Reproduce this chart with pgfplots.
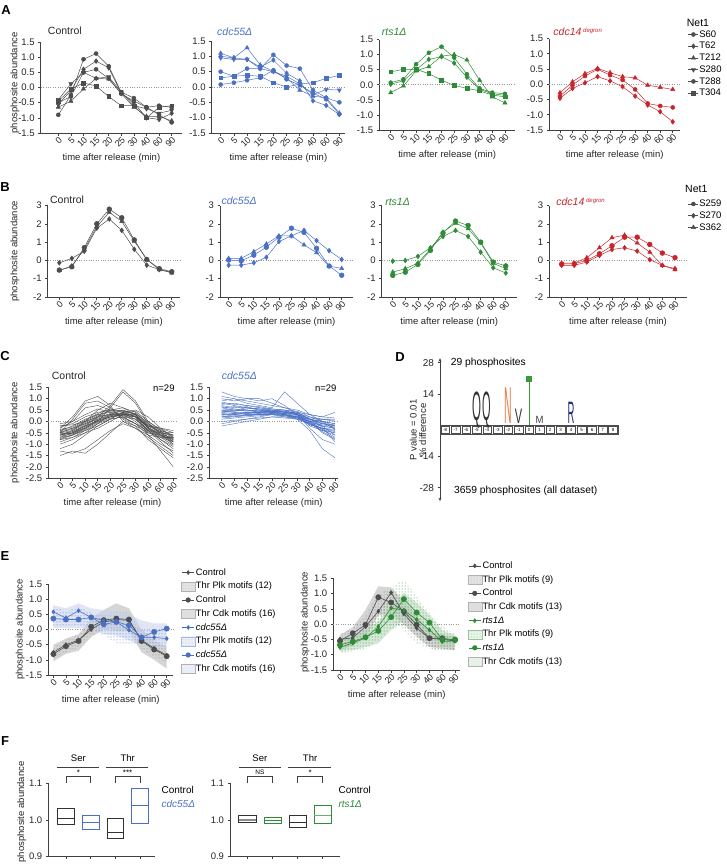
\documentclass[border=0pt]{standalone}
\usepackage{fontspec}
\setmainfont{Liberation Sans}
\usepackage{pgfplots}
\usepackage{pgfplotstable}
\pgfplotsset{compat=1.18}
\usetikzlibrary{patterns,arrows.meta}

\definecolor{cgray}{HTML}{4D4D4D}
\definecolor{cblue}{HTML}{4A70C4}
\definecolor{cgreen}{HTML}{2E8B36}
\definecolor{cred}{HTML}{C8242B}
\definecolor{corange}{HTML}{E47B45}
\definecolor{cnavy}{HTML}{1F2C7C}
\definecolor{cpt}{HTML}{3C9A3C}

\newcommand{\fs}[1]{\fontsize{#1}{#1}\selectfont}
\newcommand{\ttl}[3]{\node[anchor=west, font=\fs{10.5}, inner sep=0pt, text=black!85] at (axis description cs:#1,#2) {#3};}
\newcommand{\tr}[2]{\pgfplotstabletranspose[colnames from=n, input colnames to=t]{#1}{#2}}

\pgfplotsset{
  base/.style={
    scale only axis, clip=false, anchor=south west,
    axis lines*=left,
    axis line style={black!75, line width=0.6pt},
    tick style={black!75, line width=0.6pt},
    tick align=outside, major tick length=2.5pt,
    ticklabel style={font=\fs{9.5}, text=black!85},
    label style={font=\fs{9.5}, text=black!85},
    /pgf/number format/assume math mode=true,
  },
  yl/.style 2 args={ylabel style={at={(axis description cs:#1,#2)}, anchor=center}},
  zline/.style={extra y ticks={0}, extra y tick labels={},
    extra y tick style={grid=major, major grid style={dotted, black!40, line width=0.7pt}, major tick length=0pt}},
  time/.style={base, zline,
    xtick={0,...,9}, xticklabels={0,5,10,15,20,25,30,40,60,90},
    xticklabel style={rotate=45, anchor=north east, inner sep=0.3pt, font=\fs{9}},
    xlabel={time after release (min)}, xlabel style={yshift=-2pt},
  },
  dec1/.style={yticklabel style={/pgf/number format/.cd, fixed, fixed zerofill, precision=1}},
  gl/.style={cgray, line width=0.5pt, mark size=2pt, mark options={solid}},
  bl/.style={cblue, line width=0.5pt, mark size=2pt, mark options={solid}},
  grl/.style={cgreen, line width=0.5pt, mark size=2pt, mark options={solid}},
  rl/.style={cred, line width=0.5pt, mark size=2pt, mark options={solid}},
  mS/.style={mark=*},
  mD/.style={mark=diamond*, mark size=2.4pt},
  mT/.style={mark=triangle*, mark size=2.4pt},
  mV/.style={mark=triangle*, mark size=2.4pt, mark options={solid, rotate=180}},
  mQ/.style={mark=square*, mark size=1.9pt},
  netlegend/.style={legend style={draw=none, fill=none, font=\fs{9.5}, row sep=2.2pt, inner sep=0pt, nodes={inner sep=0.7pt, anchor=west}, anchor=north west},
    legend cell align=left,
    legend image code/.code={\draw[mark repeat=2,mark phase=2,##1] plot coordinates {(0pt,0pt)(5pt,0pt)(10pt,0pt)};}},
  elegend/.style={legend style={draw=none, fill=none, font=\fs{9.3}, row sep=4.3pt, inner sep=0pt, nodes={inner sep=0.6pt, anchor=west}, anchor=north west},
    legend cell align=left,
    legend image code/.code={\draw[mark repeat=2,mark phase=2,##1] plot coordinates {(1pt,0pt)(7pt,0pt)(13pt,0pt)};}},
  gband/.style={draw=none, fill=gray!60, fill opacity=0.55},
  gdots/.style={draw=none, pattern=dots, pattern color=black!55},
  fbox/.style={line width=0.6pt},
}

% ---------------- data (rows = series, columns = time index) ----------------
\pgfplotstableread{
n 0 1 2 3 4 5 6 7 8 9
S60 -0.9 -0.25 0.93 1.12 0.7 -0.15 -0.35 -0.65 -0.9 -1.15
T62 -0.55 -0.1 0.6 0.87 0.65 -0.2 -0.5 -1.0 -1.05 -0.85
T212 -0.65 -0.45 -0.05 0.3 0.28 -0.2 -0.65 -0.95 -0.95 -1.1
S280 -0.4 0.12 0.5 0.3 0.35 -0.15 -0.6 -0.7 -0.85 -0.75
T288 -0.5 -0.3 0.5 0.6 0.3 -0.2 -0.45 -0.65 -0.6 -0.65
T304 -0.45 -0.05 0.15 0.05 -0.3 -0.6 -0.6 -1.0 -0.65 -0.6
}\rAc
\pgfplotstableread{
n 0 1 2 3 4 5 6 7 8 9
S60 0.5 0.35 0.6 0.6 1.05 0.7 0.6 -0.1 -0.35 -0.5
T62 1.0 0.95 0.9 0.65 0.88 0.45 0.2 -0.45 -0.6 -0.9
T212 1.1 0.95 1.28 0.72 0.5 0.3 -0.1 -0.3 -0.35 -0.85
S280 0.95 0.9 0.9 0.6 0.5 0.35 0.1 -0.25 -0.08 -0.1
T288 0.08 0.14 0.22 0.3 0.55 0.25 0.06 -0.2 -0.4 -0.88
T304 0.3 0.35 0.38 0.35 0.14 0.0 0.1 0.14 0.28 0.38
}\rAd
\pgfplotstableread{
n 0 1 2 3 4 5 6 7 8 9
S60 0.07 0.18 0.68 1.06 1.26 0.9 0.35 -0.12 -0.26 -0.3
T62 0.02 0.13 0.5 0.84 0.93 0.72 0.25 -0.15 -0.3 -0.35
T212 -0.26 -0.04 0.46 0.6 0.95 1.0 0.82 0.15 -0.4 -0.6
T304 0.43 0.51 0.51 0.37 0.15 -0.02 -0.12 -0.2 -0.34 -0.4
}\rAr
\pgfplotstableread{
n 0 1 2 3 4 5 6 7 8 9
S60 -0.39 -0.03 0.27 0.49 0.3 0.14 -0.17 -0.63 -0.71 -0.76
T62 -0.46 -0.14 0.05 0.25 0.11 -0.08 -0.39 -0.68 -0.9 -1.23
T212 -0.28 0.08 0.35 0.52 0.38 0.25 0.21 -0.03 -0.1 -0.17
}\rAe
\pgfplotstableread{
n 0 1 2 3 4 5 6 7 8 9
S259 -0.53 -0.35 0.7 2.0 2.8 2.33 1.12 0.05 -0.45 -0.62
S270 -0.13 0.11 0.5 1.76 2.26 1.64 0.61 -0.26 -0.5 -0.65
S362 -0.55 -0.3 0.6 1.85 2.63 2.13 1.05 0.05 -0.5 -0.68
}\rBc
\pgfplotstableread{
n 0 1 2 3 4 5 6 7 8 9
S259 0.02 -0.02 0.29 0.72 1.27 1.76 1.53 0.66 -0.31 -0.81
S270 -0.26 -0.26 -0.13 0.17 1.03 1.34 1.64 1.08 0.53 0.05
S362 0.11 0.11 0.48 0.9 1.34 1.34 0.85 0.42 -0.31 -0.44
}\rBd
\pgfplotstableread{
n 0 1 2 3 4 5 6 7 8 9
S259 -0.82 -0.64 -0.22 0.55 1.5 2.15 1.91 1.0 -0.09 -0.3
S270 -0.04 0.0 0.22 0.69 1.31 1.64 1.31 0.45 -0.4 -0.69
S362 -0.64 -0.45 -0.15 0.62 1.55 2.04 1.73 0.95 -0.15 -0.45
}\rBr
\pgfplotstableread{
n 0 1 2 3 4 5 6 7 8 9
S259 -0.2 -0.18 0.0 0.36 0.8 1.27 1.27 0.87 0.4 0.15
S270 -0.27 -0.27 -0.09 0.27 0.6 0.69 0.51 0.04 -0.27 -0.45
S362 -0.15 -0.15 0.15 0.69 1.24 1.38 0.95 0.45 -0.27 -0.5
}\rBe
\pgfplotstableread{
n 0 1 2 3 4 5 6 7 8 9
c1 -0.5 -0.3 0 0.2 0.3 0.35 0.1 -0.4 -0.6 -0.8
c2 -0.6 -0.4 -0.1 0.1 0.25 0.4 0.2 -0.3 -0.6 -0.9
c3 -0.4 -0.2 0.1 0.3 0.4 0.3 0.0 -0.5 -0.7 -0.7
c4 -0.7 -0.5 -0.2 0.0 0.2 0.3 0.3 -0.2 -0.5 -0.8
c5 -0.3 0.2 0.9 1.1 0.7 0.0 -0.3 -0.6 -0.7 -0.9
c6 -0.5 0.1 0.8 0.9 0.6 0.1 -0.2 -0.5 -0.6 -0.7
c7 -0.8 -0.6 -0.3 0.0 0.6 1.3 0.8 -0.1 -0.5 -1.0
c8 -0.6 -0.5 -0.2 0.2 0.7 1.4 0.9 0.0 -0.4 -0.9
c9 -1.2 -1.0 -0.6 -0.2 0.1 0.2 -0.1 -0.6 -1.0 -1.3
c10 -1.5 -1.3 -1.4 -1.0 -0.5 0.0 -0.2 -0.8 -1.2 -1.6
c11 -0.9 -0.7 -0.5 -0.1 0.3 0.5 0.3 -0.3 -0.8 -1.1
c12 -0.4 -0.3 -0.1 0.2 0.5 0.6 0.4 -0.1 -0.4 -0.6
c13 -0.2 -0.1 0.2 0.4 0.5 0.4 0.2 -0.2 -0.3 -0.5
c14 -0.5 -0.4 0.0 0.3 0.45 0.5 0.3 -0.3 -0.5 -0.6
c15 -0.7 -0.6 -0.4 -0.1 0.1 0.2 0.1 -0.4 -0.8 -1.2
c16 -0.6 -0.5 -0.3 0.1 0.3 0.25 0.2 -0.4 -0.9 -1.4
c17 -0.3 0.0 0.6 0.7 0.5 0.2 -0.1 -0.4 -0.5 -0.6
c18 -1.0 -0.8 -0.5 -0.3 0.0 0.3 0.2 -0.6 -1.3 -2.0
c19 -0.55 -0.45 -0.15 0.15 0.35 0.45 0.35 -0.15 -0.45 -0.7
c20 -0.45 -0.35 -0.05 0.25 0.3 0.25 0.1 -0.35 -0.55 -0.75
c21 -0.65 -0.55 -0.25 0.05 0.2 0.35 0.45 0.0 -0.35 -0.65
c22 -0.2 -0.15 0.0 0.5 0.8 0.6 0.3 -0.2 -0.3 -0.4
c23 -0.8 -0.7 -0.4 -0.2 0.1 0.4 0.5 0.2 -0.3 -0.7
c24 -1.3 -1.4 -1.2 -0.8 -0.4 -0.1 -0.3 -0.7 -1.1 -1.5
c25 -0.5 -0.55 -0.3 0.0 0.2 0.3 0.2 -0.2 -0.45 -0.5
c26 -0.35 -0.25 0.05 0.35 0.55 0.45 0.2 -0.25 -0.6 -0.85
c27 -0.75 -0.6 -0.35 -0.05 0.15 0.3 0.35 -0.05 -0.6 -1.0
c28 -0.1 0.0 0.3 0.55 0.4 0.15 -0.1 -0.45 -0.65 -0.75
c29 -0.6 -0.45 -0.2 0.05 0.25 0.35 0.25 -0.25 -0.7 -1.05
}\rCc
\pgfplotstableread{
n 0 1 2 3 4 5 6 7 8 9
c1 0.4 0.35 0.4 0.4 0.45 0.3 0.2 -0.1 -0.2 -0.3
c2 0.6 0.5 0.5 0.45 0.4 0.35 0.2 0.0 -0.1 -0.2
c3 1.0 0.9 1.0 1.0 0.8 0.6 0.4 0.1 0.0 -0.1
c4 1.3 1.1 1.0 0.9 1.0 0.7 0.3 -0.2 -0.4 -0.6
c5 0.2 0.25 0.3 0.3 0.4 0.3 0.2 0.0 0.1 0.1
c6 0.0 0.05 0.1 0.2 0.3 0.25 0.2 0.1 0.0 -0.1
c7 -0.2 -0.1 0.0 0.1 0.2 0.2 0.15 0.0 -0.2 -0.3
c8 0.5 0.45 0.55 0.6 0.55 0.5 0.3 -0.3 -0.8 -1.0
c9 0.8 0.7 0.6 0.55 0.5 0.45 0.35 0.0 -0.5 -0.8
c10 0.3 0.3 0.35 0.4 0.35 0.25 0.15 -0.1 -0.3 -0.4
c11 0.45 0.4 0.3 0.35 0.45 0.4 0.3 0.1 -0.1 -0.2
c12 0.9 1.0 0.8 0.7 0.6 1.3 0.8 0.3 0.0 -0.2
c13 0.7 0.6 0.65 0.5 0.45 0.4 0.35 0.2 0.1 0.0
c14 0.1 0.15 0.2 0.25 0.3 0.35 0.4 0.3 0.2 0.15
c15 0.35 0.3 0.25 0.3 0.35 0.3 0.1 -0.4 -1.2 -1.6
c16 0.55 0.5 0.45 0.5 0.5 0.45 0.3 -0.1 -0.4 -0.5
c17 0.25 0.2 0.25 0.3 0.3 0.25 0.2 0.1 -0.05 -0.3
c18 1.1 1.0 0.9 0.8 0.7 0.6 0.5 0.3 0.2 0.4
c19 0.15 0.2 0.3 0.35 0.4 0.45 0.35 0.1 -0.2 -0.6
c20 0.65 0.55 0.5 0.4 0.35 0.3 0.2 -0.15 -0.3 -0.45
c21 0.4 0.5 0.6 0.5 0.4 0.35 0.25 0.0 -0.35 -0.7
c22 0.5 0.4 0.35 0.3 0.3 0.2 0.1 -0.05 -0.15 -0.25
c23 0.75 0.8 0.7 0.65 0.55 0.5 0.4 0.1 -0.1 -0.15
c24 0.3 0.35 0.4 0.45 0.5 0.5 0.45 0.2 0.0 -0.35
c25 -0.1 0.0 0.1 0.15 0.2 0.15 0.1 -0.1 -0.35 -0.5
c26 0.6 0.65 0.6 0.55 0.45 0.35 0.3 0.05 -0.25 -0.9
c27 0.2 0.3 0.4 0.4 0.45 0.4 0.3 0.15 0.1 0.05
c28 0.85 0.75 0.7 0.6 0.5 0.4 0.3 -0.05 -0.45 -0.75
c29 0.45 0.45 0.5 0.45 0.4 0.3 0.15 -0.15 -0.3 -0.35
}\rCd
% E means: gC/gP = Control Cdk/Plk, mC/mP = mutant Cdk/Plk
\pgfplotstableread{
n 0 1 2 3 4 5 6 7 8 9
gC -0.81 -0.55 -0.38 0.09 0.31 0.36 0.33 -0.38 -0.66 -0.88
gP -0.75 -0.5 -0.35 0.0 0.25 0.33 0.3 -0.35 -0.62 -0.85
mC 0.36 0.33 0.33 0.4 0.17 0.25 0.14 -0.26 -0.08 0.03
mP 0.58 0.38 0.62 0.4 0.3 0.25 -0.02 -0.26 -0.26 -0.3
}\rEd
\pgfplotstableread{
n 0 1 2 3 4 5 6 7 8 9
gC -0.55 -0.3 -0.02 0.88 0.71 0.42 -0.02 -0.46 -0.46 -0.52
gP -0.49 -0.45 -0.08 0.42 1.03 0.34 -0.13 -0.46 -0.5 -0.55
mC -0.68 -0.57 -0.43 -0.22 0.23 0.82 0.38 0.05 -0.5 -0.5
mP -0.76 -0.62 -0.45 -0.08 0.53 0.45 0.15 -0.19 -0.57 -0.55
}\rEr
\tr{\tAc}{\rAc}\tr{\tAd}{\rAd}\tr{\tAr}{\rAr}\tr{\tAe}{\rAe}
\tr{\tBc}{\rBc}\tr{\tBd}{\rBd}\tr{\tBr}{\rBr}\tr{\tBe}{\rBe}
\tr{\tCc}{\rCc}\tr{\tCd}{\rCd}\tr{\tEd}{\rEd}\tr{\tEr}{\rEr}

\begin{document}
\begin{tikzpicture}
\foreach \L/\x/\y in {A/6/10,B/5/187,C/5/356,D/400/357,E/5/556,F/5/741}
  \node[font=\bfseries\fs{13}] at (\x pt,-\y pt) {\L};

% ================= A =================
\begin{axis}[time, dec1, at={(40.7pt,-133pt)}, width=141.3pt, height=91pt,
  xmin=-1.4, xmax=9.82, ymin=-1.5, ymax=1.5, ytick={-1.5,-1,-0.5,0,0.5,1,1.5},
  ylabel={phosphosite abundance}, yl={-0.182}{0.55}]
\addplot[gl,mS] table[x=t,y=S60]{\tAc};
\addplot[gl,mD] table[x=t,y=T62]{\tAc};
\addplot[gl,mT] table[x=t,y=T212]{\tAc};
\addplot[gl,mV] table[x=t,y=S280]{\tAc};
\addplot[gl,mS] table[x=t,y=T288]{\tAc};
\addplot[gl,mQ] table[x=t,y=T304]{\tAc};
\ttl{0.05}{1.12}{Control}
\end{axis}

\begin{axis}[time, dec1, at={(211.7pt,-133pt)}, width=133.3pt, height=92pt,
  xmin=-0.68, xmax=9.43, ymin=-1.5, ymax=1.5, ytick={-1.5,-1,-0.5,0,0.5,1,1.5}]
\addplot[bl,mS] table[x=t,y=S60]{\tAd};
\addplot[bl,mD] table[x=t,y=T62]{\tAd};
\addplot[bl,mT] table[x=t,y=T212]{\tAd};
\addplot[bl,mV] table[x=t,y=S280]{\tAd};
\addplot[bl,mS] table[x=t,y=T288]{\tAd};
\addplot[bl,mQ] table[x=t,y=T304]{\tAd};
\ttl{0.04}{1.10}{\color{cblue}\itshape cdc55Δ}
\end{axis}

\begin{axis}[time, dec1, at={(379.3pt,-130pt)}, width=135.7pt, height=90.5pt,
  xmin=-0.9, xmax=9.79, ymin=-1.5, ymax=1.5, ytick={-1.5,-1,-0.5,0,0.5,1,1.5}]
\addplot[grl,mS] table[x=t,y=S60]{\tAr};
\addplot[grl,mD] table[x=t,y=T62]{\tAr};
\addplot[grl,mT] table[x=t,y=T212]{\tAr};
\addplot[grl,mQ] table[x=t,y=T304]{\tAr};
\ttl{0.018}{1.085}{\color{cgreen}\itshape rts1Δ}
\end{axis}

\begin{axis}[time, dec1, netlegend, at={(549.3pt,-130pt)}, width=130.7pt, height=91.5pt,
  xmin=-0.85, xmax=9.58, ymin=-1.5, ymax=1.5, ytick={-1.5,-1,-0.5,0,0.5,1,1.5},
  legend style={at={(1.061,1.098)}}]
\addlegendimage{gl,mS}\addlegendentry{S60}
\addlegendimage{gl,mD}\addlegendentry{T62}
\addlegendimage{gl,mT}\addlegendentry{T212}
\addlegendimage{gl,mV}\addlegendentry{S280}
\addlegendimage{gl,mS}\addlegendentry{T288}
\addlegendimage{gl,mQ}\addlegendentry{T304}
\addplot[rl,mS] table[x=t,y=S60]{\tAe};
\addplot[rl,mD] table[x=t,y=T62]{\tAe};
\addplot[rl,mT] table[x=t,y=T212]{\tAe};
\ttl{0.03}{1.075}{\color{cred}\itshape cdc14\,\raisebox{0.6ex}{\fs{6}degron}}
\node[anchor=west, font=\fs{10.5}, inner sep=0pt] at (axis description cs:1.051,1.166) {Net1};
\end{axis}

% ================= B =================
\begin{axis}[time, at={(47.7pt,-297pt)}, width=132.3pt, height=91.5pt,
  xmin=-0.93, xmax=9.66, ymin=-2, ymax=3, ytick={-2,-1,0,1,2,3},
  ylabel={phosphosite abundance}, yl={-0.247}{0.5}]
\addplot[gl,mS,mark size=2.4pt] table[x=t,y=S259]{\tBc};
\addplot[gl,mD] table[x=t,y=S270]{\tBc};
\addplot[gl,mT] table[x=t,y=S362]{\tBc};
\ttl{0.017}{1.06}{Control}
\end{axis}

\begin{axis}[time, at={(220pt,-297pt)}, width=133pt, height=91.5pt,
  xmin=-0.69, xmax=9.9, ymin=-2, ymax=3, ytick={-2,-1,0,1,2,3}]
\addplot[bl,mS,mark size=2.4pt] table[x=t,y=S259]{\tBd};
\addplot[bl,mD] table[x=t,y=S270]{\tBd};
\addplot[bl,mT] table[x=t,y=S362]{\tBd};
\ttl{0.01}{1.05}{\color{cblue}\itshape cdc55Δ}
\end{axis}

\begin{axis}[time, at={(381.7pt,-297pt)}, width=135pt, height=91.5pt,
  xmin=-0.88, xmax=9.87, ymin=-2, ymax=3, ytick={-2,-1,0,1,2,3}]
\addplot[grl,mS,mark size=2.4pt] table[x=t,y=S259]{\tBr};
\addplot[grl,mD] table[x=t,y=S270]{\tBr};
\addplot[grl,mT] table[x=t,y=S362]{\tBr};
\ttl{0.025}{1.04}{\color{cgreen}\itshape rts1Δ}
\end{axis}

\begin{axis}[time, netlegend, at={(549.3pt,-297pt)}, width=137.4pt, height=91.5pt,
  xmin=-0.98, xmax=9.93, ymin=-2, ymax=3, ytick={-2,-1,0,1,2,3},
  legend style={at={(1.009,1.071)}}]
\addlegendimage{gl,mS}\addlegendentry{S259}
\addlegendimage{gl,mD}\addlegendentry{S270}
\addlegendimage{gl,mT}\addlegendentry{S362}
\addplot[rl,mS,mark size=2.4pt] table[x=t,y=S259]{\tBe};
\addplot[rl,mD] table[x=t,y=S270]{\tBe};
\addplot[rl,mT] table[x=t,y=S362]{\tBe};
\ttl{0.05}{1.04}{\color{cred}\itshape cdc14\,\raisebox{0.6ex}{\fs{6}degron}}
\node[anchor=west, font=\fs{10.5}, inner sep=0pt] at (axis description cs:0.988,1.177) {Net1};
\end{axis}

% ================= C =================
\begin{axis}[time, dec1, at={(48.3pt,-478.3pt)}, width=128.4pt, height=91pt,
  xmin=-0.93, xmax=9.27, ymin=-2.5, ymax=1.5, ytick={-2.5,-2,-1.5,-1,-0.5,0,0.5,1,1.5},
  ylabel={phosphosite abundance}, yl={-0.259}{0.5}]
\pgfplotsinvokeforeach{1,...,29}{\addplot[cgray, line width=0.4pt] table[x=t,y=c#1]{\tCc};}
\ttl{0.026}{1.124}{Control}
\node[font=\fs{9.5}] at (axis description cs:0.9,0.995) {n=29};
\end{axis}

\begin{axis}[time, dec1, at={(209.3pt,-478.3pt)}, width=128.7pt, height=91pt,
  xmin=-0.98, xmax=9.24, ymin=-2.5, ymax=1.5, ytick={-2.5,-2,-1.5,-1,-0.5,0,0.5,1,1.5}]
\pgfplotsinvokeforeach{1,...,29}{\addplot[cblue, line width=0.4pt] table[x=t,y=c#1]{\tCd};}
\ttl{0.096}{1.124}{\color{cblue}\itshape cdc55Δ}
\node[font=\fs{9.5}] at (axis description cs:0.905,0.995) {n=29};
\end{axis}

% ================= D =================
\begin{axis}[base, at={(440pt,-501.1pt)}, width=178.3pt, height=142.9pt,
  xmin=-8.5, xmax=8.5, ymin=-34, ymax=30, axis x line=none, xtick=\empty,
  ytick={-28,-14,14,28}, yticklabel style={font=\fs{10}},
  y axis line style={{Stealth[length=3.5pt,width=3pt]}-{Stealth[length=3.5pt,width=3pt]}},
  ylabel={P value = 0.01\\\% difference},
  ylabel style={align=center, at={(axis description cs:-0.123,0.4975)}, anchor=center}]
\draw[black!70, line width=0.5pt] (axis cs:-8.5,-0.2) rectangle (axis cs:8.5,-4.1);
\pgfplotsinvokeforeach{-8,...,8}{
  \draw[black!70, line width=0.4pt, fill=white] ([xshift=-4.4pt]axis cs:#1,-0.6) rectangle ([xshift=4.4pt]axis cs:#1,-3.7);
  \node[font=\fs{4.5}, inner sep=0pt] at (axis cs:#1,-2.15) {#1};
}
\node[anchor=base, inner sep=0pt, font=\fs{10}, text=black!80, xscale=1.15, yscale=4.1] at (axis cs:-5,2.2) {Q};
\node[anchor=base, inner sep=0pt, font=\fs{10}, text=black!80, xscale=1.1, yscale=4.1] at (axis cs:-4,2.2) {Q};
\node[anchor=base, inner sep=0pt, font=\fs{10}, text=corange, xscale=1.05, yscale=5.2] at (axis cs:-2,0.9) {N};
\node[anchor=base, inner sep=0pt, font=\fs{10}, text=black!80, xscale=1.1, yscale=2.1] at (axis cs:-1,0.9) {V};
\node[anchor=base, inner sep=0pt, font=\fs{10}, text=black!75, xscale=0.95, yscale=1.05] at (axis cs:1,0.9) {M};
\node[anchor=base, inner sep=0pt, font=\fs{10}, text=cnavy, xscale=0.95, yscale=3.1] at (axis cs:4,0.9) {R};
\addplot[cpt, line width=1pt, mark=square*, mark size=2.6pt, mark indices={2}] coordinates {(0,0) (0,20.6)};
\node[anchor=west, font=\fs{10.3}] at (axis cs:-7.8,28) {29 phosphosites};
\node[anchor=west, font=\fs{10.3}] at (axis cs:-7.48,-29.3) {3659 phosphosites (all dataset)};
\end{axis}

% ================= E =================
\begin{axis}[time, dec1, elegend, at={(48.3pt,-675pt)}, width=125pt, height=91pt,
  xmin=-0.4, xmax=9.52, ymin=-1.5, ymax=1.5, ytick={-1.5,-1,-0.5,0,0.5,1,1.5},
  ylabel={phosphosite abundance}, yl={-0.226}{0.5}, legend style={at={(1.06,1.18)}}]
\addlegendimage{cgray, line width=0.5pt, mark=diamond*, mark size=2pt}\addlegendentry{Control}
\addlegendimage{legend image code/.code={\fill[gray!22] (0pt,-4.5pt) rectangle (14pt,4.5pt); \fill[pattern=dots, pattern color=gray!55] (0pt,-4.5pt) rectangle (14pt,4.5pt); \draw[gray!60, line width=0.4pt] (0pt,-4.5pt) rectangle (14pt,4.5pt);}}\addlegendentry{Thr Plk motifs (12)}
\addlegendimage{cgray, line width=0.5pt, mark=*, mark size=2.3pt}\addlegendentry{Control}
\addlegendimage{legend image code/.code={\draw[fill=gray!25, draw=gray!60, line width=0.4pt] (0pt,-4.5pt) rectangle (14pt,4.5pt);}}\addlegendentry{Thr Cdk motifs (16)}
\addlegendimage{cblue, line width=0.5pt, mark=diamond*, mark size=2pt}\addlegendentry{\itshape cdc55Δ}
\addlegendimage{legend image code/.code={\fill[cblue!10] (0pt,-4.5pt) rectangle (14pt,4.5pt); \fill[pattern=dots, pattern color=cblue!55] (0pt,-4.5pt) rectangle (14pt,4.5pt); \draw[cblue!50, line width=0.4pt] (0pt,-4.5pt) rectangle (14pt,4.5pt);}}\addlegendentry{Thr Plk motifs (12)}
\addlegendimage{cblue, line width=0.5pt, mark=*, mark size=2.3pt}\addlegendentry{\itshape cdc55Δ}
\addlegendimage{legend image code/.code={\draw[fill=cblue!12, draw=gray!60, line width=0.4pt] (0pt,-4.5pt) rectangle (14pt,4.5pt);}}\addlegendentry{Thr Cdk motifs (16)}
\addplot[gband] coordinates {(0,-0.5)(1,-0.3)(2,-0.15)(3,0.35)(4,0.65)(5,0.86)(6,0.7)(7,0.0)(8,-0.35)(9,-0.57)
  (9,-1.29)(8,-1.0)(7,-0.75)(6,-0.05)(5,-0.05)(4,0.0)(3,-0.25)(2,-0.7)(1,-0.8)(0,-1.05)} -- cycle;
\addplot[gdots] coordinates {(0,-0.6)(1,-0.35)(2,-0.2)(3,0.25)(4,0.5)(5,0.6)(6,0.55)(7,-0.1)(8,-0.4)(9,-0.65)
  (9,-1.1)(8,-0.9)(7,-0.65)(6,0.05)(5,0.1)(4,0.05)(3,-0.2)(2,-0.6)(1,-0.75)(0,-0.95)} -- cycle;
\addplot[draw=none, fill=cblue!30, fill opacity=0.6] coordinates {(0,0.8)(1,0.7)(2,0.86)(3,0.7)(4,0.64)(5,0.64)(6,0.5)(7,0.3)(8,0.2)(9,0.2)
  (9,-0.57)(8,-0.57)(7,-0.55)(6,-0.35)(5,-0.2)(4,-0.15)(3,0.0)(2,0.05)(1,0.05)(0,0.05)} -- cycle;
\addplot[draw=none, pattern=dots, pattern color=cblue] coordinates {(0,0.75)(1,0.6)(2,0.75)(3,0.55)(4,0.4)(5,0.3)(6,0.2)(7,0.0)(8,0.03)(9,0.05)
  (9,-0.57)(8,-0.57)(7,-0.5)(6,-0.46)(5,-0.45)(4,-0.2)(3,0.05)(2,0.15)(1,0.1)(0,0.1)} -- cycle;
\addplot[cgray, line width=0.6pt, mark=diamond*, mark size=2pt] table[x=t,y=gP]{\tEd};
\addplot[cgray, line width=0.6pt, mark=*, mark size=2.6pt] table[x=t,y=gC]{\tEd};
\addplot[cblue, line width=0.6pt, mark=diamond*, mark size=2pt] table[x=t,y=mP]{\tEd};
\addplot[cblue, line width=0.6pt, mark=*, mark size=2.6pt] table[x=t,y=mC]{\tEd};
\end{axis}

\begin{axis}[time, dec1, elegend, at={(333.3pt,-670pt)}, width=126.7pt, height=91.7pt,
  xmin=-0.52, xmax=9.39, ymin=-1.5, ymax=1.5, ytick={-1.5,-1,-0.5,0,0.5,1,1.5},
  ylabel={phosphosite abundance}, yl={-0.223}{0.52}, legend style={at={(1.058,1.189)}}]
\addlegendimage{cgray, line width=0.5pt, mark=diamond*, mark size=2pt}\addlegendentry{Control}
\addlegendimage{legend image code/.code={\fill[gray!22] (0pt,-4.5pt) rectangle (14pt,4.5pt); \fill[pattern=dots, pattern color=gray!55] (0pt,-4.5pt) rectangle (14pt,4.5pt); \draw[gray!60, line width=0.4pt] (0pt,-4.5pt) rectangle (14pt,4.5pt);}}\addlegendentry{Thr Plk motifs (9)}
\addlegendimage{cgray, line width=0.5pt, mark=*, mark size=2.3pt}\addlegendentry{Control}
\addlegendimage{legend image code/.code={\draw[fill=gray!25, draw=gray!60, line width=0.4pt] (0pt,-4.5pt) rectangle (14pt,4.5pt);}}\addlegendentry{Thr Cdk motifs (13)}
\addlegendimage{cgreen, line width=0.5pt, mark=diamond*, mark size=2pt}\addlegendentry{\itshape rts1Δ}
\addlegendimage{legend image code/.code={\fill[cgreen!10] (0pt,-4.5pt) rectangle (14pt,4.5pt); \fill[pattern=dots, pattern color=cgreen!55] (0pt,-4.5pt) rectangle (14pt,4.5pt); \draw[cgreen!50, line width=0.4pt] (0pt,-4.5pt) rectangle (14pt,4.5pt);}}\addlegendentry{Thr Plk motifs (9)}
\addlegendimage{cgreen, line width=0.5pt, mark=*, mark size=2.3pt}\addlegendentry{\itshape rts1Δ}
\addlegendimage{legend image code/.code={\draw[fill=cgreen!12, draw=gray!60, line width=0.4pt] (0pt,-4.5pt) rectangle (14pt,4.5pt);}}\addlegendentry{Thr Cdk motifs (13)}
\addplot[gband] coordinates {(0,-0.35)(1,-0.1)(2,0.47)(3,1.24)(4,1.2)(5,0.75)(6,0.3)(7,-0.2)(8,-0.35)(9,-0.4)
  (9,-0.85)(8,-0.8)(7,-0.75)(6,-0.4)(5,0.0)(4,0.3)(3,0.3)(2,-0.45)(1,-0.7)(0,-0.85)} -- cycle;
\addplot[gdots] coordinates {(0,-0.3)(1,-0.15)(2,0.3)(3,1.0)(4,1.15)(5,0.9)(6,0.4)(7,-0.05)(8,-0.3)(9,-0.4)
  (9,-0.85)(8,-0.85)(7,-0.8)(6,-0.63)(5,-0.2)(4,0.14)(3,0.0)(2,-0.45)(1,-0.7)(0,-0.75)} -- cycle;
\addplot[draw=none, fill=cgreen!35, fill opacity=0.55] coordinates {(0,-0.5)(1,-0.4)(2,-0.2)(3,0.1)(4,0.58)(5,1.03)(6,0.7)(7,0.3)(8,-0.2)(9,-0.35)
  (9,-0.75)(8,-0.75)(7,-0.35)(6,-0.05)(5,0.14)(4,-0.2)(3,-0.63)(2,-0.75)(1,-0.85)(0,-0.9)} -- cycle;
\addplot[draw=none, pattern=dots, pattern color=cgreen] coordinates {(0,-0.55)(1,-0.4)(2,-0.15)(3,0.4)(4,1.2)(5,1.46)(6,0.92)(7,0.36)(8,-0.08)(9,-0.3)
  (9,-0.85)(8,-0.85)(7,-0.8)(6,-0.4)(5,-0.08)(4,-0.15)(3,-0.52)(2,-0.8)(1,-0.9)(0,-0.95)} -- cycle;
\addplot[cgray, line width=0.6pt, mark=diamond*, mark size=2pt] table[x=t,y=gP]{\tEr};
\addplot[cgray, line width=0.6pt, mark=*, mark size=2.6pt] table[x=t,y=gC]{\tEr};
\addplot[cgreen, line width=0.6pt, mark=diamond*, mark size=2pt] table[x=t,y=mP]{\tEr};
\addplot[cgreen, line width=0.6pt, mark=*, mark size=2.6pt] table[x=t,y=mC]{\tEr};
\end{axis}

% ================= F =================
% boxes: low, high, mean per group
\begin{axis}[base, dec1, at={(48.3pt,-856.7pt)}, width=106.7pt, height=73.4pt,
  xmin=0.283, xmax=4.61, ymin=0.9, ymax=1.1, ytick={0.9,1.0,1.1},
  xtick={1,2,3,4}, xticklabels={}, ylabel={phosphosite abundance}, yl={-0.249}{0.61}]
\addplot[fbox, black!80] coordinates {(0.66,0.989)(1.34,0.989)(1.34,1.032)(0.66,1.032)} -- cycle;
\addplot[fbox, black!80] coordinates {(0.66,1.004)(1.34,1.004)};
\addplot[fbox, cblue] coordinates {(1.66,0.975)(2.34,0.975)(2.34,1.014)(1.66,1.014)} -- cycle;
\addplot[fbox, cblue] coordinates {(1.66,0.995)(2.34,0.995)};
\addplot[fbox, black!80] coordinates {(2.66,0.950)(3.34,0.950)(3.34,1.005)(2.66,1.005)} -- cycle;
\addplot[fbox, black!80] coordinates {(2.66,0.966)(3.34,0.966)};
\addplot[fbox, cblue] coordinates {(3.66,0.991)(4.34,0.991)(4.34,1.086)(3.66,1.086)} -- cycle;
\addplot[fbox, cblue] coordinates {(3.66,1.040)(4.34,1.040)};
\draw[black!75, line width=0.6pt] (axis cs:0.62,1.1436) -- (axis cs:2.35,1.1436);
\draw[black!75, line width=0.6pt] (axis cs:2.62,1.1436) -- (axis cs:4.34,1.1436);
\node[font=\fs{9.5}] at (axis cs:1.5,1.168) {Ser};
\node[font=\fs{9.5}] at (axis cs:3.5,1.168) {Thr};
\draw[black!75, line width=0.6pt] (axis cs:1,1.1) -- (axis cs:1,1.12) -- (axis cs:2,1.12) -- (axis cs:2,1.1);
\draw[black!75, line width=0.6pt] (axis cs:3,1.1) -- (axis cs:3,1.12) -- (axis cs:4,1.12) -- (axis cs:4,1.1);
\node[font=\fs{8}, anchor=south, inner sep=0.5pt] at (axis cs:1.5,1.12) {*};
\node[font=\fs{8}, anchor=south, inner sep=0.5pt] at (axis cs:3.5,1.12) {***};
\node[anchor=west, font=\fs{10}, inner sep=0pt] at (axis description cs:1.06,0.91) {Control};
\node[anchor=west, font=\fs{10}, inner sep=0pt, text=cblue] at (axis description cs:1.06,0.714) {\itshape cdc55Δ};
\end{axis}

\begin{axis}[base, dec1, at={(230pt,-856.7pt)}, width=110pt, height=73.4pt,
  xmin=0.31, xmax=4.69, ymin=0.9, ymax=1.1, ytick={0.9,1.0,1.1},
  xtick={1,2,3,4}, xticklabels={}]
\addplot[fbox, black!80] coordinates {(0.66,0.993)(1.34,0.993)(1.34,1.014)(0.66,1.014)} -- cycle;
\addplot[black!45, line width=1.6pt] coordinates {(0.66,1.0)(1.34,1.0)};
\addplot[fbox, cgreen] coordinates {(1.66,0.991)(2.34,0.991)(2.34,1.007)(1.66,1.007)} -- cycle;
\addplot[fbox, cgreen] coordinates {(1.66,1.0)(2.34,1.0)};
\addplot[fbox, black!80] coordinates {(2.66,0.979)(3.34,0.979)(3.34,1.014)(2.66,1.014)} -- cycle;
\addplot[fbox, black!80] coordinates {(2.66,0.994)(3.34,0.994)};
\addplot[fbox, cgreen] coordinates {(3.66,0.991)(4.34,0.991)(4.34,1.041)(3.66,1.041)} -- cycle;
\addplot[fbox, cgreen!70] coordinates {(3.66,1.012)(4.34,1.012)};
\draw[black!75, line width=0.6pt] (axis cs:0.68,1.1436) -- (axis cs:2.33,1.1436);
\draw[black!75, line width=0.6pt] (axis cs:2.63,1.1436) -- (axis cs:4.33,1.1436);
\node[font=\fs{9.5}] at (axis cs:1.5,1.168) {Ser};
\node[font=\fs{9.5}] at (axis cs:3.5,1.168) {Thr};
\draw[black!75, line width=0.6pt] (axis cs:1,1.1) -- (axis cs:1,1.12) -- (axis cs:2,1.12) -- (axis cs:2,1.1);
\draw[black!75, line width=0.6pt] (axis cs:3,1.1) -- (axis cs:3,1.12) -- (axis cs:4,1.12) -- (axis cs:4,1.1);
\node[font=\fs{6.5}, anchor=south, inner sep=1pt] at (axis cs:1.5,1.12) {NS};
\node[font=\fs{8}, anchor=south, inner sep=0.5pt] at (axis cs:3.5,1.12) {*};
\node[anchor=west, font=\fs{10}, inner sep=0pt] at (axis description cs:0.985,0.91) {Control};
\node[anchor=west, font=\fs{10}, inner sep=0pt, text=cgreen] at (axis description cs:0.985,0.714) {\itshape rts1Δ};
\end{axis}

\pgfresetboundingbox
\path[use as bounding box] (0pt,0pt) rectangle (727pt,-865pt);
\end{tikzpicture}
\end{document}
